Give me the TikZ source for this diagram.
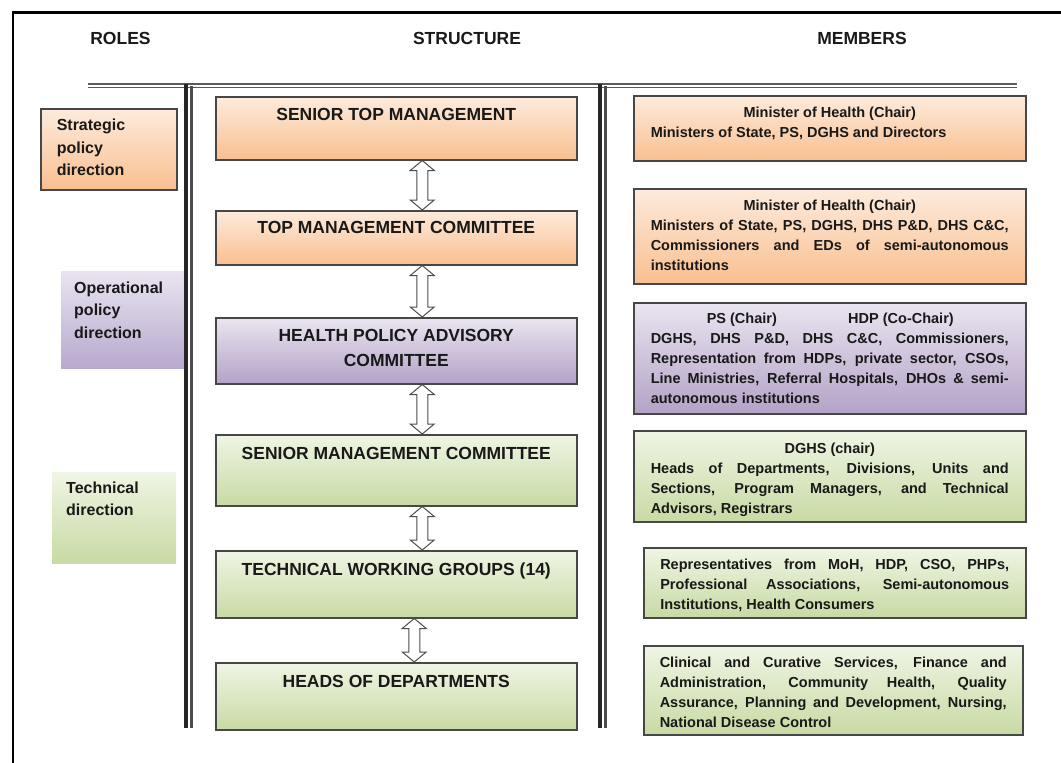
\documentclass[tikz,border=0pt]{standalone}
\usepackage{fontspec}
\setmainfont{Liberation Sans}
\usetikzlibrary{calc}
\definecolor{or1}{HTML}{FDEBDD}
\definecolor{or2}{HTML}{F9BF8F}
\definecolor{pu1}{HTML}{EAE5F0}
\definecolor{pu2}{HTML}{B3A2C7}
\definecolor{rp1}{HTML}{E9E4F0}
\definecolor{rp2}{HTML}{B8A9CE}
\definecolor{gr1}{HTML}{EFF5E4}
\definecolor{gr2}{HTML}{C8DAA4}
\tolerance=10000
\hbadness=10000
\hyphenpenalty=10000
\setlength{\parindent}{0pt}
\tikzset{
  base/.style={inner ysep=0pt, text=black!90, anchor=north west},
  sbox/.style={base, draw=black!72, line width=1.5pt, inner xsep=0pt,
    font=\bfseries\fontsize{17.5}{25}\selectfont},
  mbox/.style={base, draw=black!72, line width=1.5pt, inner xsep=17pt,
    font=\bfseries\fontsize{14.5}{20}\selectfont},
  rbox/.style={base, font=\bfseries\fontsize{16}{22.5}\selectfont},
  hdr/.style={font=\bfseries\fontsize{17.5}{21}\selectfont, text=black!90, inner sep=0pt},
  fillor/.style={top color=or1, bottom color=or2},
  fillpu/.style={top color=pu1, bottom color=pu2},
  fillrp/.style={top color=rp1, bottom color=rp2},
  fillgr/.style={top color=gr1, bottom color=gr2},
  blockarr/.style={draw=black!70, line width=1pt, fill=white, line join=miter},
  frameline/.style={line width=2.5pt, black},
  thickrule/.style={line width=4pt, black!85},
  thinrule/.style={line width=2.5pt, black!70},
  hrule/.style={line width=1.8pt, black!65}
}
\newcommand\bidarrow[3]{%
  \draw[blockarr] ($(#1.south)+(#3,0)$) -- ++(12,10) -- ++(-6.5,0)
    -- ($(#2.north)+(#3+5.5,-10)$) -- ++(6.5,0) -- ($(#2.north)+(#3,0)$)
    -- ++(-12,-10) -- ++(6.5,0) -- ($(#1.south)+(#3-5.5,10)$) -- ++(-6.5,0) -- cycle;}
\begin{document}
\begin{tikzpicture}[x=1pt,y=-1pt]
\useasboundingbox (0,0) rectangle (1061,763);
% outer frame
\draw[frameline] (13,763) -- (13,12.5) -- (1061,12.5);
% headers
\node[hdr] (hroles) at (120.5,38) {ROLES};
\node[hdr] (hstruct) at (467,38) {STRUCTURE};
\node[hdr] (hmem) at (862,38) {MEMBERS};
% roles
\node[rbox, fillor, draw=black!72, line width=1.5pt, inner xsep=16pt] (rstrat) at (40,108)
  {\parbox[c][81pt][t]{104pt}{\raggedright\rule{0pt}{22pt}Strategic\\policy\\direction}};
\node[rbox, fillrp, inner xsep=13pt] (roper) at (61,271)
  {\parbox[c][97pt][t]{100pt}{\raggedright\rule{0pt}{22pt}Operational\\policy\\direction}};
\node[rbox, fillgr, inner xsep=14pt] (rtech) at (52,472)
  {\parbox[c][91pt][t]{96pt}{\raggedright\rule{0pt}{21pt}Technical\\direction}};
% rules
\draw[hrule] (88,84) -- (1017,84);
\draw[hrule, line width=1.4pt] (88,87.5) -- (1017,87.5);
\draw[thickrule] (185.5,84) -- (185.5,728);
\draw[thinrule] (191.5,86) -- (191.5,728);
\draw[thickrule] (599.5,84) -- (599.5,728);
\draw[thinrule] (605.5,86) -- (605.5,728);
% structure
\node[sbox, fillor] (stm) at (215,96)
  {\parbox[c][63pt][t]{361pt}{\centering\rule{0pt}{23.5pt}SENIOR TOP MANAGEMENT}};
\node[sbox, fillor] (tmc) at (215,210)
  {\parbox[c][54pt][t]{361pt}{\centering\rule{0pt}{23pt}TOP MANAGEMENT COMMITTEE}};
\node[sbox, fillpu] (hpac) at (215,317)
  {\parbox[c][66pt][t]{361pt}{\centering\rule{0pt}{23.5pt}HEALTH POLICY ADVISORY\\COMMITTEE}};
\node[sbox, fillgr] (smc) at (215,434)
  {\parbox[c][71pt][t]{361pt}{\centering\rule{0pt}{25pt}SENIOR MANAGEMENT COMMITTEE}};
\node[sbox, fillgr] (twg) at (215,550)
  {\parbox[c][67pt][t]{361pt}{\centering\rule{0pt}{25pt}TECHNICAL WORKING GROUPS (14)}};
\node[sbox, fillgr] (hod) at (215,662)
  {\parbox[c][67pt][t]{361pt}{\centering\rule{0pt}{25pt}HEADS OF DEPARTMENTS}};
% arrows
\bidarrow{stm}{tmc}{26}
\bidarrow{tmc}{hpac}{26}
\bidarrow{hpac}{smc}{26}
\bidarrow{smc}{twg}{26}
\bidarrow{twg}{hod}{18}
% members
\node[mbox, fillor] (m1) at (633,95)
  {\parbox[c][65pt][t]{358pt}{{\centering\rule{0pt}{22pt}Minister of Health (Chair)\par}
  Ministers of State, PS, DGHS and Directors}};
\node[mbox, fillor] (m2) at (633,188)
  {\parbox[c][95pt][t]{358pt}{{\centering\rule{0pt}{22pt}Minister of Health (Chair)\par}
  Ministers of State, PS, DGHS, DHS P\&D, DHS C\&C,\linebreak Commissioners and EDs of semi-autonomous\linebreak institutions}};
\node[mbox, fillpu] (m3) at (633,302)
  {\parbox[c][111pt][t]{358pt}{{\parfillskip=0pt \rule{0pt}{21pt}\hspace*{56pt}PS (Chair)\hfill HDP (Co-Chair)\hspace*{55pt}\par}
  DGHS, DHS P\&D, DHS C\&C, Commissioners,\linebreak Representation from HDPs, private sector, CSOs,\linebreak Line Ministries, Referral Hospitals, DHOs \& semi-\linebreak autonomous institutions}};
\node[mbox, fillgr] (m4) at (633,430)
  {\parbox[c][91pt][t]{358pt}{{\centering\rule{0pt}{23pt}DGHS (chair)\par}
  Heads of Departments, Divisions, Units and\linebreak Sections, Program Managers, and Technical\linebreak Advisors, Registrars}};
\node[mbox, fillgr, inner xsep=16.5pt] (m5) at (643,547)
  {\parbox[c][70pt][t]{349pt}{\rule{0pt}{22pt}Representatives from MoH, HDP, CSO, PHPs,\linebreak Professional Associations, Semi-autonomous\linebreak Institutions, Health Consumers}};
\node[mbox, fillgr, inner xsep=16pt] (m6) at (643,645)
  {\parbox[c][89pt][t]{347pt}{\rule{0pt}{22pt}Clinical and Curative Services, Finance and\linebreak Administration, Community Health, Quality\linebreak Assurance, Planning and Development, Nursing,\linebreak National Disease Control}};
\end{tikzpicture}
\end{document}
